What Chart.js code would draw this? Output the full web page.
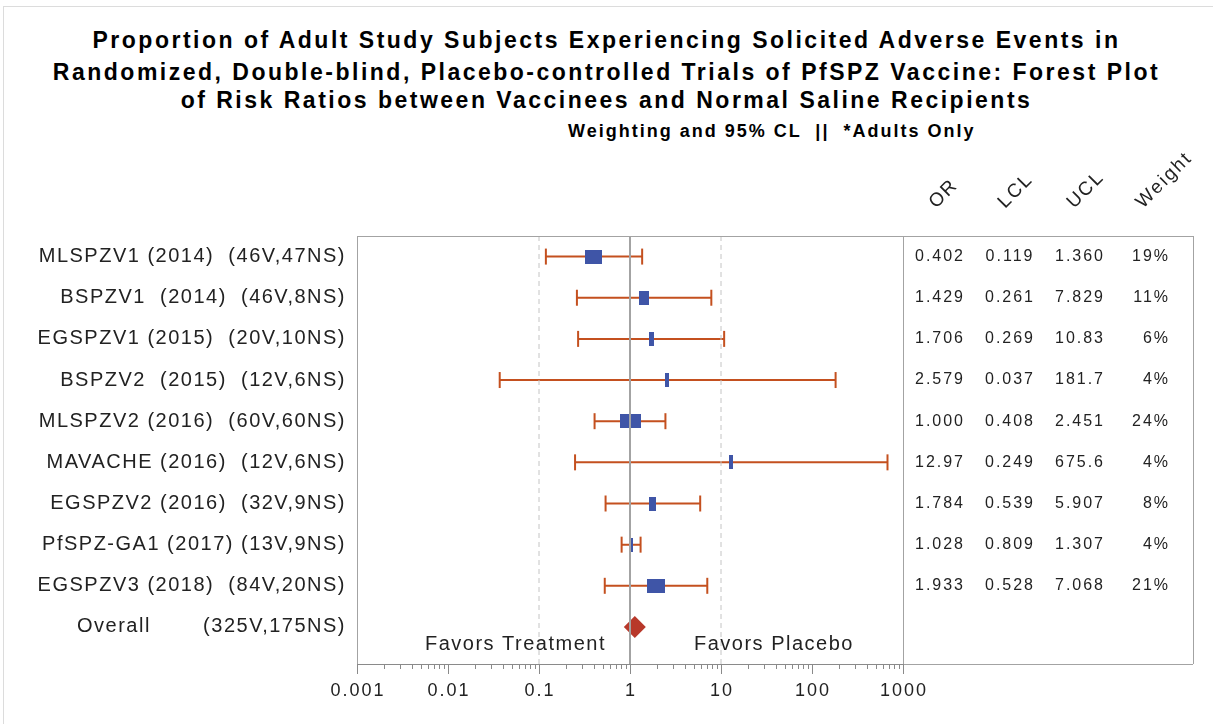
<!DOCTYPE html>
<html>
<head>
<meta charset="utf-8">
<script src="https://cdn.jsdelivr.net/npm/chart.js@4.4.0/dist/chart.umd.min.js"></script>
<style>
  body { margin: 0; background: #fff; font-family: "Liberation Sans", Arial, sans-serif; }
  #wrap { position: relative; width: 1213px; height: 724px; overflow: hidden; }
  #frame { position: absolute; left: 3px; top: 6px; width: 1220px; height: 730px; border: 1px solid #dcdcdc; }
  .ttl { position: absolute; left: 0; width: 1213px; text-align: center; font-weight: bold; font-size: 23px; line-height: 1; letter-spacing: 2.5px; color: #000; white-space: nowrap; }
  .sub { position: absolute; left: 568px; top: 122px; font-weight: bold; font-size: 18px; line-height: 1; letter-spacing: 2px; color: #000; white-space: pre; }
  #forest { position: absolute; left: 0; top: 0; }
</style>
</head>
<body>
<div id="wrap">
  <div id="frame"></div>
  <div class="ttl" style="top:29px">Proportion of Adult Study Subjects Experiencing Solicited Adverse Events in</div>
  <div class="ttl" style="top:61px">Randomized, Double-blind, Placebo-controlled Trials of PfSPZ Vaccine: Forest Plot</div>
  <div class="ttl" style="top:89px">of Risk Ratios between Vaccinees and Normal Saline Recipients</div>
  <div class="sub">Weighting and 95% CL  ||  *Adults Only</div>
  <canvas id="forest" width="1213" height="724"></canvas>
</div>
<script>
const studyLabels = [
  'MLSPZV1 (2014)  (46V,47NS)',
  'BSPZV1  (2014)  (46V,8NS)',
  'EGSPZV1 (2015)  (20V,10NS)',
  'BSPZV2  (2015)  (12V,6NS)',
  'MLSPZV2 (2016)  (60V,60NS)',
  'MAVACHE (2016)  (12V,6NS)',
  'EGSPZV2 (2016)  (32V,9NS)',
  'PfSPZ-GA1 (2017) (13V,9NS)',
  'EGSPZV3 (2018)  (84V,20NS)'
];
const overallLabel = 'Overall';
const overallCounts = '(325V,175NS)';
const orVals  = [0.402, 1.429, 1.706, 2.579, 1.000, 12.97, 1.784, 1.028, 1.933];
const lclVals = [0.119, 0.261, 0.269, 0.037, 0.408, 0.249, 0.539, 0.809, 0.528];
const uclVals = [1.360, 7.829, 10.83, 181.7, 2.451, 675.6, 5.907, 1.307, 7.068];
const weights = [19, 11, 6, 4, 24, 4, 8, 4, 21];
const overallOR = 1.13;
const tableHeads = ['OR', 'LCL', 'UCL', 'Weight'];
const xTickVals = [0.001, 0.01, 0.1, 1, 10, 100, 1000];
const xTickText = ['0.001', '0.01', '0.1', '1', '10', '100', '1000'];
const refSolid = 1;
const refDashed = [0.1, 10];

const BLUE = '#3f55a7', ORANGE = '#c4501f', RED = '#b8382a', GRAY = '#a3a3a3';
const Y_MIN = -0.5, Y_MAX = 9.9;
const overallRow = studyLabels.length;

const fmt = v => v < 1 ? v.toFixed(3) : v.toPrecision(4);

// weight-scaled boxes as canvas point styles
const boxStyles = weights.map(w => {
  const c = document.createElement('canvas');
  c.width = Math.max(3, Math.round(w * 0.88));
  c.height = 14;
  const g = c.getContext('2d');
  g.fillStyle = BLUE;
  g.fillRect(0, 0, c.width, c.height);
  return c;
});

// CI segments, broken by empty points
const ciSegs = [];
lclVals.forEach((l, i) => { ciSegs.push({ x: l, y: i }, { x: uclVals[i], y: i }, { x: null, y: null }); });
const caps = [];
lclVals.forEach((l, i) => { caps.push({ x: l, y: i }, { x: uclVals[i], y: i }); });

const vline = v => [{ x: v, y: Y_MIN }, { x: v, y: Y_MAX }];

const forestDecor = {
  id: 'forestDecor',
  afterDraw(chart) {
    const { ctx, chartArea: a, scales: { x, y } } = chart;
    const tblRight = 1193;
    ctx.save();
    // frame of plot + table
    ctx.strokeStyle = GRAY;
    ctx.lineWidth = 1;
    ctx.beginPath();
    ctx.moveTo(a.left, a.top + 0.5); ctx.lineTo(tblRight, a.top + 0.5);
    ctx.moveTo(a.right + 0.5, a.top); ctx.lineTo(a.right + 0.5, a.bottom);
    ctx.moveTo(tblRight + 0.5, a.top); ctx.lineTo(tblRight + 0.5, a.bottom);
    ctx.moveTo(a.right, a.bottom + 0.5); ctx.lineTo(tblRight, a.bottom + 0.5);
    ctx.stroke();

    // log ticks below the axis
    ctx.strokeStyle = '#8a8a8a';
    ctx.beginPath();
    x.ticks.forEach(t => {
      const px = Math.round(x.getPixelForValue(t.value)) + 0.5;
      const major = xTickVals.some(v => Math.abs(Math.log10(v) - Math.log10(t.value)) < 1e-6);
      ctx.moveTo(px, a.bottom); ctx.lineTo(px, a.bottom + (major ? 10 : 5));
    });
    ctx.stroke();

    ctx.fillStyle = '#222';
    ctx.letterSpacing = '2px';
    ctx.font = '18px "Liberation Sans", Arial, sans-serif';
    ctx.textAlign = 'center';
    ctx.textBaseline = 'middle';
    xTickVals.forEach((v, i) => ctx.fillText(xTickText[i], x.getPixelForValue(v) + 1, a.bottom + 27));

    // row labels
    ctx.font = '20px "Liberation Sans", Arial, sans-serif';
    ctx.letterSpacing = '1.5px';
    ctx.textAlign = 'right';
    studyLabels.forEach((s, i) => ctx.fillText(s, a.left - 11, y.getPixelForValue(i)));
    ctx.fillText(overallCounts, a.left - 11, y.getPixelForValue(overallRow));
    ctx.textAlign = 'left';
    ctx.fillText(overallLabel, 77, y.getPixelForValue(overallRow));

    // direction captions
    const p1 = x.getPixelForValue(1);
    const capY = y.getPixelForValue(overallRow) + 18;
    ctx.textAlign = 'right';
    ctx.fillText('Favors Treatment', p1 - 24, capY);
    ctx.textAlign = 'left';
    ctx.fillText('Favors Placebo', p1 + 64, capY);

    // statistics table
    const cols = [940, 1010, 1080];
    ctx.font = '16px "Liberation Sans", Arial, sans-serif';
    ctx.letterSpacing = '2px';
    orVals.forEach((v, i) => {
      const py = y.getPixelForValue(i);
      ctx.textAlign = 'center';
      ctx.fillText(fmt(v), cols[0], py);
      ctx.fillText(fmt(lclVals[i]), cols[1], py);
      ctx.fillText(fmt(uclVals[i]), cols[2], py);
      ctx.textAlign = 'right';
      ctx.fillText(weights[i] + '%', 1170, py);
    });

    // rotated column heads
    ctx.font = '19px "Liberation Sans", Arial, sans-serif';
    ctx.letterSpacing = '2px';
    ctx.textAlign = 'left';
    ctx.textBaseline = 'alphabetic';
    tableHeads.forEach((h, i) => {
      ctx.save();
      ctx.translate(936 + i * 69, 209);
      ctx.rotate(-Math.PI / 4);
      ctx.fillText(h, 0, 0);
      ctx.restore();
    });
    ctx.restore();
  }
};

new Chart(document.getElementById('forest'), {
  type: 'scatter',
  data: {
    datasets: [
      { type: 'line', data: vline(refSolid), borderColor: GRAY, borderWidth: 2, pointRadius: 0, order: 0 },
      { type: 'line', data: vline(refDashed[0]), borderColor: '#c4c4c4', borderWidth: 1, borderDash: [5, 4], pointRadius: 0, order: 0 },
      { type: 'line', data: vline(refDashed[1]), borderColor: '#c4c4c4', borderWidth: 1, borderDash: [5, 4], pointRadius: 0, order: 0 },
      { data: [{ x: overallOR, y: overallRow }], pointStyle: 'rectRot', pointRadius: 11, backgroundColor: RED, borderColor: RED, borderWidth: 0, order: 1 },
      { data: orVals.map((v, i) => ({ x: v, y: i })), pointStyle: boxStyles, pointRadius: 7, order: 1 },
      { data: caps, pointStyle: 'line', rotation: 90, pointRadius: 8, borderColor: ORANGE, borderWidth: 2, order: 2 },
      { type: 'line', data: ciSegs, borderColor: ORANGE, borderWidth: 2, pointRadius: 0, spanGaps: false, order: 3 }
    ]
  },
  options: {
    responsive: false,
    animation: false,
    events: [],
    layout: { padding: { top: 236, right: 310, bottom: 0, left: 0 } },
    plugins: { legend: { display: false }, tooltip: { enabled: false } },
    scales: {
      x: {
        type: 'logarithmic',
        min: 0.001, max: 1000,
        afterBuildTicks: s => {
          const t = [];
          xTickVals.slice(0, -1).forEach(d => { for (let m = 1; m <= 9; m++) t.push({ value: m * d }); });
          t.push({ value: xTickVals[xTickVals.length - 1] });
          s.ticks = t;
        },
        afterFit: s => { s.height = 60; },
        ticks: { display: false },
        grid: { display: false },
        border: { display: true, color: '#8a8a8a', width: 1 }
      },
      y: {
        type: 'linear',
        reverse: true,
        min: Y_MIN, max: Y_MAX,
        afterFit: s => { s.width = 357; },
        ticks: { display: false },
        grid: { display: false },
        border: { display: true, color: GRAY, width: 1 }
      }
    }
  },
  plugins: [forestDecor]
});
</script>
</body>
</html>
